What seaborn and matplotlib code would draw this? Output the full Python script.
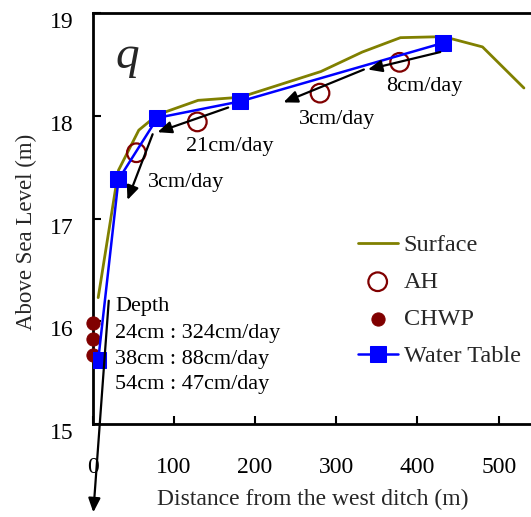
import matplotlib
matplotlib.use("Agg")
import matplotlib.pyplot as plt
import matplotlib.transforms as mtransforms
import seaborn as sns
import pandas as pd

sns.set_theme(style="white")
plt.rcParams['font.family'] = ['Liberation Serif', 'DejaVu Serif']

# ---- data ----
surface_x = [7, 32, 57, 80, 130, 182, 281, 332, 379, 432, 480, 531]
surface_y = [16.23, 17.47, 17.86, 18.01, 18.15, 18.18, 18.43, 18.62, 18.76, 18.77, 18.67, 18.27]

wt_x = [7, 32, 80, 182, 432]
wt_y = [15.62, 17.38, 17.98, 18.14, 18.71]

ah_x = [54, 129, 280, 378]
ah_y = [17.64, 17.94, 18.22, 18.52]

chwp_x = [1, 1, 1]
chwp_y = [15.98, 15.83, 15.67]

# arrows: (start_x, start_y, end_x, end_y)
arrow_sx = [74, 167, 334, 428, 20]
arrow_sy = [17.82, 18.08, 18.45, 18.62, 16.20]
arrow_ex = [43, 80, 235, 339, 1]
arrow_ey = [17.18, 17.84, 18.13, 18.45, 14.14]

rate_labels = ["3cm/day", "21cm/day", "3cm/day", "8cm/day"]
rate_x = [68, 115, 254, 362]
rate_y = [17.35, 17.70, 17.96, 18.28]

depth_lines = ["Depth", "24cm : 324cm/day", "38cm : 88cm/day", "54cm : 47cm/day"]
depth_y = [16.14, 15.88, 15.63, 15.38]

x_ticks = [0, 100, 200, 300, 400, 500]
y_ticks = [15, 16, 17, 18, 19]

# ---- figure ----
fig = plt.figure(figsize=(5.31, 5.17), dpi=100)
ax = fig.add_axes([92.5 / 531, 1 - 424 / 517, 1 - 92.5 / 531 + 0.002, (424 - 13) / 517])

surf_df = pd.DataFrame({"x": surface_x, "y": surface_y})
wt_df = pd.DataFrame({"x": wt_x, "y": wt_y})
ah_df = pd.DataFrame({"x": ah_x, "y": ah_y})
chwp_df = pd.DataFrame({"x": chwp_x, "y": chwp_y})

sns.lineplot(data=surf_df, x="x", y="y", sort=False, color="#808000", lw=2, ax=ax,
             label="Surface", zorder=2)
sns.scatterplot(data=ah_df, x="x", y="y", marker="o", s=180, facecolor="none",
                edgecolor="#800000", linewidth=1.6, ax=ax, label="AH", zorder=3)
sns.scatterplot(data=chwp_df, x="x", y="y", marker="o", s=90, color="#800000",
                edgecolor="#800000", ax=ax, label="CHWP", zorder=3, clip_on=False)
sns.lineplot(data=wt_df, x="x", y="y", sort=False, color="#0000FF", lw=1.8,
             marker="s", markersize=12, markeredgecolor="#0000FF", ax=ax,
             label="Water Table", zorder=4)

for sx, sy, ex, ey in zip(arrow_sx, arrow_sy, arrow_ex, arrow_ey):
    ax.annotate("", xy=(ex, ey), xytext=(sx, sy), annotation_clip=False,
                arrowprops=dict(arrowstyle="-|>,head_length=0.7,head_width=0.3",
                                color="black", lw=1.6, shrinkA=0, shrinkB=0),
                zorder=5)

for t, x, y in zip(rate_labels, rate_x, rate_y):
    ax.text(x, y, t, fontsize=16, ha="left", va="center", color="black")

for t, y in zip(depth_lines, depth_y):
    ax.text(28, y, t, fontsize=16, ha="left", va="center", color="black")

ax.text(28, 18.57, "q", fontsize=34, style="italic", ha="left", va="center")

ax.set_xlim(0, 541)
ax.set_ylim(15, 19)
ax.set_xticks(x_ticks)
ax.set_yticks(y_ticks)
ax.tick_params(direction="in", length=6, width=1.5, labelsize=17, colors="black",
               left=True, bottom=True, top=False, right=False)
ax.tick_params(axis="y", pad=14)
ax.tick_params(axis="x", pad=24)
offset = mtransforms.ScaledTranslation(0, -7 / 100, fig.dpi_scale_trans)
for lab in ax.get_yticklabels():
    lab.set_transform(lab.get_transform() + offset)

ax.set_xlabel("Distance from the west ditch (m)", fontsize=17)
ax.set_ylabel("Above Sea Level (m)", fontsize=16.5)
ax.xaxis.set_label_coords((312 - 92.5) / 438.5, -(499 - 424) / 411)
ax.yaxis.set_label_coords(-(92.5 - 27) / 438.5, (424 - 232) / 411)
ax.xaxis.label.set_va("center")
ax.yaxis.label.set_va("center")

for side in ["left", "bottom", "top"]:
    ax.spines[side].set_color("black")
    ax.spines[side].set_linewidth(2)
ax.spines["right"].set_visible(False)

handles, labels = ax.get_legend_handles_labels()
leg = ax.legend(handles, labels, loc="upper left",
                bbox_to_anchor=((357 - 92.5) / 438.5, (424 - 234) / 411),
                frameon=False, fontsize=17.5, handlelength=1.65, handletextpad=0.25,
                labelspacing=0.62, borderaxespad=0, borderpad=0)

fig.savefig("out.png", dpi=100)
